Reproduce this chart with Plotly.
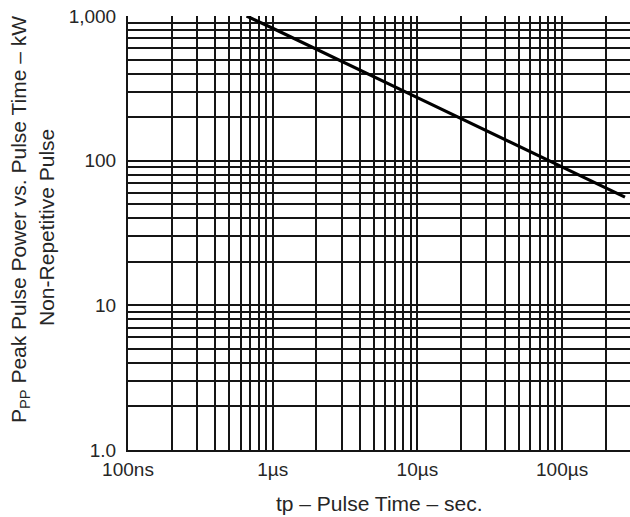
import numpy as np
import plotly.graph_objects as go

# Curve: peak pulse power vs pulse time
pulse_time_s = [0.66e-6, 1e-6, 10e-6, 100e-6, 272e-6]
peak_power_kw = [1000, 822, 273, 91, 56]

# Axis ticks
x_major_vals = [1e-7, 1e-6, 1e-5, 1e-4]
x_major_text = ["100ns", "1µs", "10µs", "100µs"]
y_major_vals = [1, 10, 100, 1000]
y_major_text = ["1.0", "10", "100", "1,000"]

x_grid = [m * d for d in [1e-7, 1e-6, 1e-5, 1e-4, 1e-3] for m in range(1, 10)]
y_grid = [m * d for d in [1, 10, 100, 1000] for m in range(1, 10)]
x_text = [x_major_text[x_major_vals.index(v)] if v in x_major_vals else "" for v in x_grid]
y_text = [y_major_text[y_major_vals.index(v)] if v in y_major_vals else "" for v in y_grid]

FONT = "Liberation Sans, Arial, Helvetica, sans-serif"
TXT = "#262626"

fig = go.Figure()
fig.add_trace(go.Scatter(x=pulse_time_s, y=peak_power_kw, mode="lines",
                         line=dict(color="black", width=3.2), showlegend=False,
                         hoverinfo="skip"))

fig.update_layout(
    width=630, height=517,
    margin=dict(l=128, r=0, t=16, b=67),
    paper_bgcolor="white", plot_bgcolor="white",
    font=dict(family=FONT, size=19, color=TXT),
    xaxis=dict(type="log", range=[-7, -7 + 502 / 144.7], automargin=False,
               tickmode="array", tickvals=x_grid, ticktext=x_text,
               showgrid=True, gridcolor="#151515", gridwidth=1.8,
               showline=True, linecolor="#151515", linewidth=2,
               ticks="", ticklabelstandoff=1, zeroline=False),
    yaxis=dict(type="log", range=[0, 3], automargin=False,
               tickmode="array", tickvals=y_grid, ticktext=y_text,
               showgrid=True, gridcolor="#151515", gridwidth=1.8,
               showline=True, linecolor="#151515", linewidth=2, mirror=True,
               ticks="", ticklabelstandoff=6, zeroline=False),
)

fig.add_annotation(text="tp – Pulse Time – sec.",
                   xref="paper", yref="paper", x=0.5, y=-0.124,
                   showarrow=False, xanchor="center", yanchor="middle",
                   font=dict(size=21, family=FONT, color=TXT))
fig.add_annotation(text="P<sub>PP</sub> Peak Pulse Power vs. Pulse Time – kW",
                   xref="paper", yref="paper", x=-0.215, y=0.530,
                   textangle=-90, showarrow=False, xanchor="center", yanchor="middle",
                   font=dict(size=21, family=FONT, color=TXT))
fig.add_annotation(text="Non-Repetitive Pulse",
                   xref="paper", yref="paper", x=-0.161, y=0.512,
                   textangle=-90, showarrow=False, xanchor="center", yanchor="middle",
                   font=dict(size=21, family=FONT, color=TXT))

fig.write_html("out.html", config={"displayModeBar": False},
               post_script="document.body.style.margin='0';")
